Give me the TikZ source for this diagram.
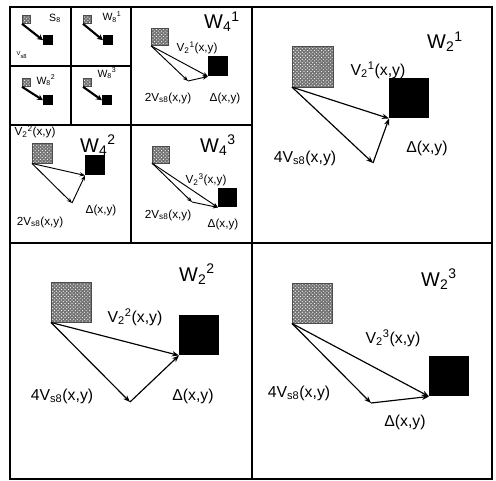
\documentclass[tikz,border=0pt]{standalone}
\usepackage{amsmath}
\usepackage{fontspec}
\setmainfont{Liberation Sans}
\usetikzlibrary{arrows.meta,patterns}
\tikzset{
  frame/.style={draw=black,line width=1.5pt},
  seedbox/.style={rectangle,anchor=north west,inner sep=0pt,draw=black!70,thin,preaction={fill=black!55},pattern=crosshatch dots,pattern color=white},
  blockbox/.style={rectangle,anchor=north west,inner sep=0pt,fill=black},
  vecarr/.style={->,>={Stealth[length=6pt,width=4.5pt]},line width=1pt},
  thinarr/.style={->,>={Stealth[length=4.5pt,width=3.5pt]},line width=0.8pt},
  fatarr/.style={->,>={Stealth[length=5pt,width=5pt]},line width=1.8pt},
  wlab/.style={anchor=west,inner sep=0pt,font=\fontsize{17}{19}\selectfont},
  wsmall/.style={inner sep=0pt,font=\fontsize{9}{10}\selectfont},
  biglab/.style={inner sep=0pt,font=\fontsize{13.5}{15}\selectfont},
  midlab/.style={inner sep=0pt,font=\fontsize{10}{11}\selectfont}
}
\newcommand{\Wl}[2]{W$_{\text{#1}}{}^{\text{#2}}$}
\newcommand{\Vl}[2]{V$_{\text{#1}}{}^{\text{#2}}$}
\newcommand{\Vs}{V$_{\text{s8}}$}

\begin{document}
\begin{tikzpicture}[x=0.03cm,y=-0.03cm]
  \useasboundingbox (0,0) rectangle (496,481);
  % panel frames
  \draw[frame] (10,7) rectangle (492,479);
  \draw[frame] (252,7) -- (252,479);
  \draw[frame] (10,243) -- (492,243);
  \draw[frame] (131,7) -- (131,243);
  \draw[frame] (10,125) -- (252,125);
  \draw[frame] (71,7) -- (71,125);
  \draw[frame] (10,66) -- (131,66);

  % level 8
  \node[seedbox,minimum size=0.25cm] (g80) at (22,15) {};
  \node[blockbox,minimum size=0.3cm] (b80) at (43,35) {};
  \draw[fatarr] (g80.south west) -- (b80.west);
  \node[wsmall] (s80) at (55,18) {S$_{\text{8}}$};
  \node[inner sep=0pt,font=\fontsize{5}{6}\selectfont] (v80) at (22,55) {\Vs};

  \node[seedbox,minimum size=0.25cm] (g81) at (83,15) {};
  \node[blockbox,minimum size=0.3cm] (b81) at (103,35) {};
  \draw[fatarr] (g81.south west) -- (b81.west);
  \node[wsmall] (w81) at (112,17) {\Wl{8}{1}};

  \node[seedbox,minimum size=0.25cm] (g82) at (22,78) {};
  \node[blockbox,minimum size=0.3cm] (b82) at (43,95) {};
  \draw[fatarr] (g82.south west) -- (b82.west);
  \node[wsmall] (w82) at (46,80) {\Wl{8}{2}};

  \node[seedbox,minimum size=0.25cm] (g83) at (83,78) {};
  \node[blockbox,minimum size=0.3cm] (b83) at (102,95) {};
  \draw[fatarr] (g83.south west) -- (b83.west);
  \node[wsmall] (w83) at (107,73) {\Wl{8}{3}};

  % level 4
  \node[seedbox,minimum size=0.52cm] (g41) at (151,28) {};
  \node[blockbox,minimum size=0.6cm] (b41) at (208,56) {};
  \coordinate (m41) at (188,81);
  \draw[thinarr] (g41.south west) -- (b41.south west);
  \draw[thinarr] (g41.south west) -- (m41);
  \draw[thinarr] (m41) -- (b41.south west);
  \node[wlab] (w41) at (204,22) {\Wl{4}{1}};
  \node[midlab] (v41) at (197,48) {\Vl{2}{1}(x,y)};
  \node[midlab] (s41) at (168,98) {2\Vs(x,y)};
  \node[midlab] (d41) at (225,98) {Δ(x,y)};

  \node[seedbox,minimum size=0.6cm] (g42) at (32,143) {};
  \node[blockbox,minimum size=0.6cm] (b42) at (85,155) {};
  \coordinate (m42) at (72,203);
  \draw[thinarr] (g42.south west) -- (b42.south west);
  \draw[thinarr] (g42.south west) -- (m42);
  \draw[thinarr] (m42) -- (b42.south west);
  \node[wlab] (w42) at (80,145) {\Wl{4}{2}};
  \node[midlab] (v42) at (35,132) {\Vl{2}{2}(x,y)};
  \node[midlab] (s42) at (40,222) {2\Vs(x,y)};
  \node[midlab] (d42) at (101,210) {Δ(x,y)};

  \node[seedbox,minimum size=0.5cm] (g43) at (152,146) {};
  \node[blockbox,minimum size=0.57cm] (b43) at (218,188) {};
  \coordinate (m43) at (192,202);
  \draw[thinarr] (g43.south west) -- (b43.south west);
  \draw[thinarr] (g43.south west) -- (m43);
  \draw[thinarr] (m43) -- (b43.south west);
  \node[wlab] (w43) at (200,145) {\Wl{4}{3}};
  \node[midlab] (v43) at (206,180) {\Vl{2}{3}(x,y)};
  \node[midlab] (s43) at (168,215) {2\Vs(x,y)};
  \node[midlab] (d43) at (223,224) {Δ(x,y)};

  % level 2
  \node[seedbox,minimum size=1.22cm] (g21) at (292,46) {};
  \node[blockbox,minimum size=1.2cm] (b21) at (389,78) {};
  \coordinate (m21) at (373,163);
  \draw[vecarr] (g21.south west) -- (b21.south west);
  \draw[vecarr] (g21.south west) -- (m21);
  \draw[vecarr] (m21) -- (b21.south west);
  \node[wlab] (w21) at (427,42) {\Wl{2}{1}};
  \node[biglab] (v21) at (378,70) {\Vl{2}{1}(x,y)};
  \node[biglab] (s21) at (305,158) {4\Vs(x,y)};
  \node[biglab] (d21) at (427,148) {Δ(x,y)};

  \node[seedbox,minimum size=1.2cm] (g22) at (51,282) {};
  \node[blockbox,minimum size=1.2cm] (b22) at (179,315) {};
  \coordinate (m22) at (130,402);
  \draw[vecarr] (g22.south west) -- (b22.south west);
  \draw[vecarr] (g22.south west) -- (m22);
  \draw[vecarr] (m22) -- (b22.south west);
  \node[wlab] (w22) at (179,274) {\Wl{2}{2}};
  \node[biglab] (v22) at (135,317) {\Vl{2}{2}(x,y)};
  \node[biglab] (s22) at (62,396) {4\Vs(x,y)};
  \node[biglab] (d22) at (193,396) {Δ(x,y)};

  \node[seedbox,minimum size=1.2cm] (g23) at (292,283) {};
  \node[blockbox,minimum size=1.2cm] (b23) at (429,356) {};
  \coordinate (m23) at (371,403);
  \draw[vecarr] (g23.south west) -- (b23.south west);
  \draw[vecarr] (g23.south west) -- (m23);
  \draw[vecarr] (m23) -- (b23.south west);
  \node[wlab] (w23) at (421,279) {\Wl{2}{3}};
  \node[biglab] (v23) at (393,338) {\Vl{2}{3}(x,y)};
  \node[biglab] (s23) at (299,393) {4\Vs(x,y)};
  \node[biglab] (d23) at (405,422) {Δ(x,y)};
\end{tikzpicture}
\end{document}
